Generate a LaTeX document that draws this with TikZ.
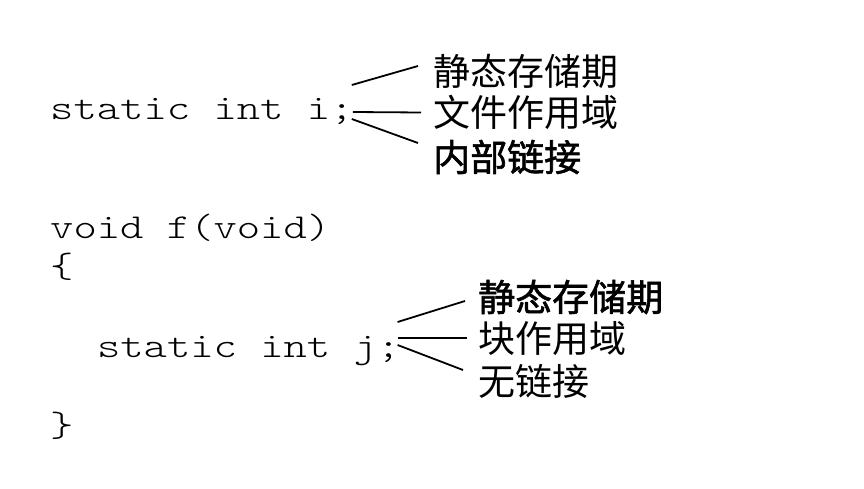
\documentclass[tikz,border=0pt]{standalone}
\usepackage{fontspec}
\newfontfamily\cjk{Noto Sans CJK SC}
\newfontfamily\cjkheavy{Noto Sans CJK SC}[FakeBold=1.6]
\newfontfamily\codefont{lmmonolt10-regular.otf}[FakeStretch=1.27]
\begin{document}
\begin{tikzpicture}[x=1pt, y=-1pt,
    code/.style={anchor=base west, inner sep=0pt, font=\codefont\fontsize{35}{35}\selectfont},
    term/.style={anchor=west, inner sep=0pt, font=\cjk\fontsize{37}{37}\selectfont},
    heavy/.style={term, font=\cjkheavy\fontsize{37}{37}\selectfont},
    fork/.style={line width=1.8pt}]
    \useasboundingbox (0, 0) rectangle (864, 489) ;
    \node[code] (si) at (50, 120) {static int i;} ;
    \node[code] (vf) at (50, 238) {void f(void)} ;
    \node[code] (lb) at (50, 277.5) {\{} ;
    \node[code] (sj) at (96.8, 357) {static int j;} ;
    \node[code] (rb) at (50, 436) {\}} ;
    \node[term] (sa) at (433, 71) {静态存储期} ;
    \node[term] (fs) at (433, 112.5) {文件作用域} ;
    \node[heavy] (il) at (433, 157) {内部链接} ;
    \node[heavy] (sb) at (478, 297) {静态存储期} ;
    \node[term] (bs) at (478, 339) {块作用域} ;
    \node[term] (nl) at (478, 381) {无链接} ;
    \draw[fork] ([shift={(-2, -35)}]si.base east) -- ([shift={(-15, -5)}]sa.west) ;
    \draw[fork] ([shift={(-1, -8)}]si.base east) -- ([shift={(-12, 0)}]fs.west) ;
    \draw[fork] ([shift={(-2, -1)}]si.base east) -- ([shift={(-15, -14)}]il.west) ;
    \draw[fork] ([shift={(-3, -35)}]sj.base east) -- ([shift={(-13, 4)}]sb.west) ;
    \draw[fork] ([shift={(-3, -19)}]sj.base east) -- ([shift={(-11, -1)}]bs.west) ;
    \draw[fork] ([shift={(-3, -12)}]sj.base east) -- ([shift={(-15, -11)}]nl.west) ;
\end{tikzpicture}
\end{document}
